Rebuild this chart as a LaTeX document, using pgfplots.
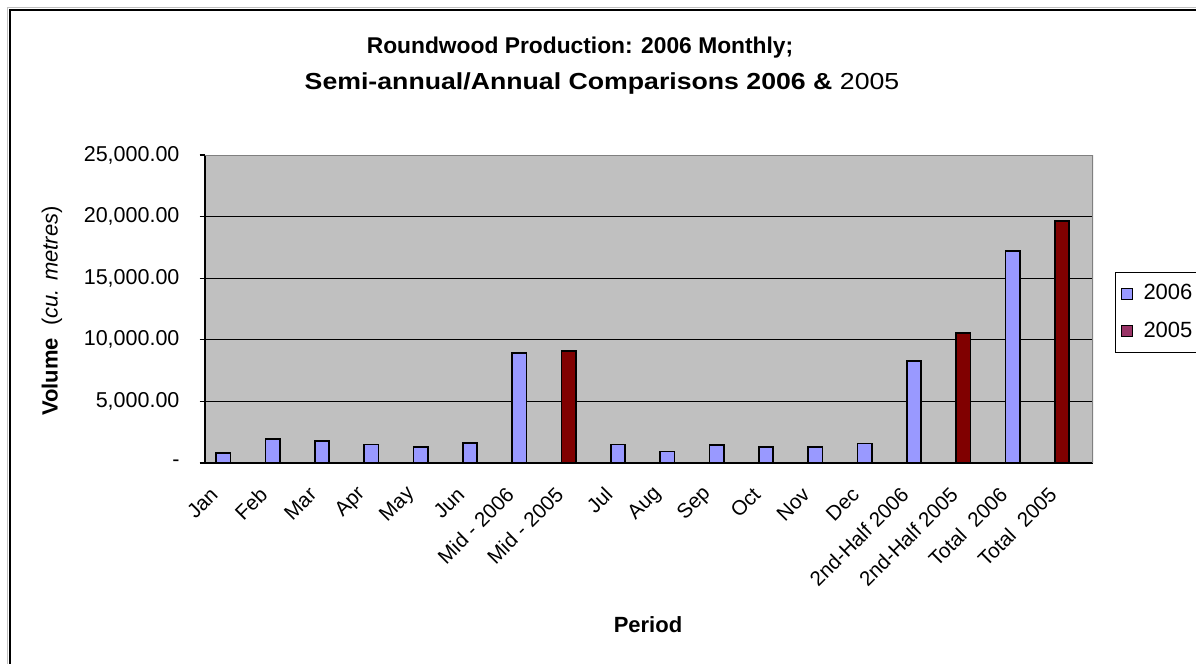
\documentclass[border=0pt]{standalone}
\usepackage{pgfplots}
\pgfplotsset{compat=1.18}
\usepackage{fontspec}
\setmainfont{Liberation Sans}
\definecolor{c06}{HTML}{9999FF}
\definecolor{c05}{HTML}{800000}
\definecolor{c05leg}{HTML}{993366}
\definecolor{bgc}{HTML}{C0C0C0}
\definecolor{bord}{HTML}{808080}
\begin{document}
\begin{tikzpicture}
\path[use as bounding box] (0,0) rectangle (598bp,-332bp);
\fill[white] (0,0) rectangle (598bp,-332bp);
\draw[gray!50, line width=0.6bp] (3.6bp,-340bp) -- (3.6bp,-3.6bp) -- (610bp,-3.6bp);
\draw[black, line width=1.1bp] (5bp,-340bp) -- (5bp,-5bp) -- (610bp,-5bp);
\node[font=\fontsize{11.4bp}{13bp}\selectfont\bfseries] at (290bp,-24bp) {Roundwood Production: 2006 Monthly;};
\node[font=\fontsize{11.6bp}{13bp}\selectfont] at (301bp,-41.5bp) {\scalebox{1.15}[1]{\textbf{Semi-annual/Annual Comparisons 2006 \&} 2005}};
\node[rotate=90, font=\fontsize{11bp}{13bp}\selectfont] at (26bp,-155.5bp) {\textbf{Volume}\ \ (\textit{cu. metres})};
\node[font=\fontsize{11bp}{13bp}\selectfont\bfseries] at (324bp,-312.5bp) {Period};
\begin{axis}[
  at={(102.5bp,-231.5bp)}, anchor=south west,
  scale only axis, width=444bp, height=154bp,
  xmin=-0.5, xmax=17.5, ymin=0, ymax=25000,
  scaled y ticks=false,
  ybar, bar width=7.2bp,
  axis background/.style={fill=bgc},
  axis x line*=bottom, axis y line*=left,
  axis line style={black, line width=0.6bp},
  tick align=outside,
  xtick={0,...,17},
  xticklabels={Jan,Feb,Mar,Apr,May,Jun,Mid - 2006,Mid - 2005,Jul,Aug,Sep,Oct,Nov,Dec,2nd-Half 2006,2nd-Half 2005,Total\ \ 2006,Total\ \ 2005},
  x tick style={draw=none},
  minor xtick={-0.5,0.5,...,17.5},
  minor x tick style={black, line width=0.6bp},
  minor tick length=3bp,
  major tick length=2.75bp,
  y tick style={black, line width=0.6bp},
  ytick={0,5000,10000,15000,20000,25000},
  yticklabels={{-\hspace{12.5bp}},{5,000.00},{10,000.00},{15,000.00},{20,000.00},{25,000.00}},
  ymajorgrids, major grid style={black, line width=0.5bp},
  ticklabel style={font=\fontsize{10.75bp}{12bp}\selectfont},
  xticklabel style={rotate=45, anchor=east, xshift=-10bp, yshift=-2.5bp, font=\fontsize{10.3bp}{12bp}\selectfont},
  yticklabel style={xshift=-6.5bp},
  legend image code/.code={\draw[#1] (0bp,-2.75bp) rectangle (5.5bp,2.75bp);},
  legend style={at={(1.0248,0.62)}, anchor=north west, draw=black, line width=0.5bp,
    font=\fontsize{11bp}{12bp}\selectfont, inner xsep=2.5bp, inner ysep=4bp, row sep=5.5bp,
    legend cell align=left, /tikz/every odd column/.append style={column sep=3.5bp}},
]
\addplot[fill=c06, draw=black, line width=0.8bp, bar shift=-3.15bp, forget plot] coordinates {
 (0,810) (1,1950) (2,1780) (3,1490) (4,1300) (5,1620) (6,8920)
 (8,1490) (9,940) (10,1460) (11,1300) (12,1300) (13,1590) (14,8300) (16,17200)};
\addplot[fill=c05, draw=black, line width=0.8bp, bar shift=-3.15bp, forget plot] coordinates {
 (7,9110) (15,10540) (17,19630)};
\draw[bord, line width=0.8bp] (rel axis cs:0,1) -- (rel axis cs:1,1) -- (rel axis cs:1,0);
\addlegendimage{fill=c06, draw=black, line width=0.5bp}
\addlegendentry{2006}
\addlegendimage{fill=c05leg, draw=black, line width=0.5bp}
\addlegendentry{2005}
\end{axis}
\end{tikzpicture}
\end{document}
